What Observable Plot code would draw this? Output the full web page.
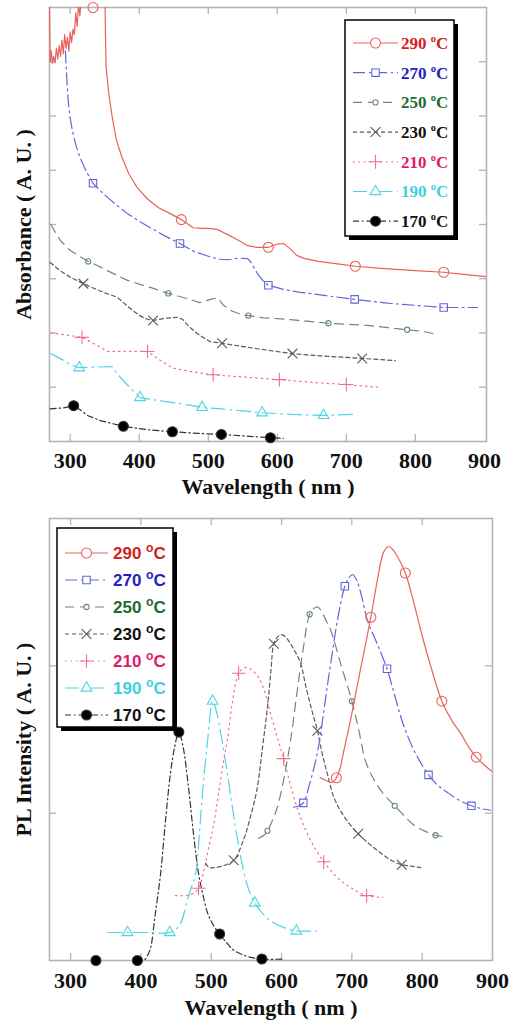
<!DOCTYPE html>
<html><head><meta charset="utf-8">
<script src="https://cdn.jsdelivr.net/npm/d3@7"></script>
<script src="https://cdn.jsdelivr.net/npm/@observablehq/plot@0.6"></script>
<style>
body{margin:0;background:#fff;}
#wrap{position:relative;width:509px;height:1022px;overflow:hidden;background:#fff;}
#wrap > svg{display:block;}
#overlay{position:absolute;left:0;top:0;pointer-events:none;}
</style></head><body><div id="wrap"></div>
<script>
// ---------- categories / ticks ----------
const series = ["290","270","250","230","210","190","170"];
const xTicks = [300,400,500,600,700,800,900];
const absYTicks = [1,2,3,4,5,6,7];
const plYTicks = [1,2];

// ---------- Absorbance (top) : [wavelength nm, absorbance A.U.] ----------
const abs290 = [[270,8.0],[271,7.0],[272.5,7.2],[274,6.97],[276,7.1],[278,6.98],[280,7.25],[282,7.05],[284,7.3],[286,7.1],[288,7.4],[290,7.15],[292,7.5],[294,7.25],[296,7.45],[298,7.2],[300,7.55],[302,7.35],[304,7.6],[306,7.5],[308,7.9],[310,7.65],[312,8.05],[314,7.85],[317,8.3],[320,8.8],[330,9.2],[345,9.2],[350,8.6],[351,7.5],[352,6.9],[356,6.4],[361,5.97],[367,5.55],[375,5.24],[385,4.93],[397,4.68],[412,4.47],[428,4.31],[445,4.2],[461,4.09],[478,3.94],[490,3.93],[500,3.93],[513,3.91],[530,3.8],[545,3.7],[557,3.61],[570,3.58],[587,3.58],[600,3.64],[609,3.65],[618,3.56],[628,3.43],[640,3.37],[660,3.32],[690,3.27],[713,3.23],[750,3.19],[800,3.15],[841,3.12],[870,3.08],[903,3.04]];
const abs290Mk = [[333,8.0],[461,4.09],[587,3.58],[713,3.23],[841,3.12]];
const abs270 = [[293,7.2],[295,6.7],[297,6.29],[300,5.95],[304,5.68],[309,5.43],[314,5.24],[320,5.07],[325,4.94],[333,4.76],[343,4.63],[354,4.5],[368,4.35],[383,4.2],[400,4.06],[416,3.94],[437,3.79],[459,3.65],[480,3.5],[499,3.42],[515,3.36],[528,3.35],[545,3.38],[557,3.37],[562,3.3],[571,3.1],[580,2.95],[587,2.88],[610,2.8],[633,2.75],[670,2.69],[712,2.62],[760,2.55],[800,2.51],[841,2.47],[890,2.47]];
const abs270Mk = [[333,4.76],[459,3.65],[587,2.88],[712,2.62],[841,2.47]];
const abs250 = [[272,4.0],[280,3.82],[286,3.7],[300,3.52],[313,3.42],[326,3.32],[340,3.24],[354,3.15],[368,3.06],[383,2.97],[400,2.9],[416,2.84],[430,2.78],[442,2.73],[465,2.65],[488,2.56],[503,2.62],[513,2.65],[518,2.58],[522,2.51],[535,2.4],[548,2.34],[558,2.32],[580,2.28],[605,2.26],[633,2.23],[674,2.18],[730,2.14],[760,2.1],[788,2.06],[810,2.03],[826,1.99]];
const abs250Mk = [[326,3.32],[442,2.73],[558,2.32],[674,2.18],[788,2.06]];
const abs230 = [[271,3.3],[285,3.15],[300,3.03],[319,2.91],[335,2.82],[350,2.74],[368,2.66],[377,2.56],[390,2.42],[401,2.32],[410,2.26],[420,2.23],[437,2.27],[455,2.29],[463,2.25],[472,2.12],[484,1.99],[495,1.9],[503,1.84],[520,1.81],[545,1.76],[571,1.71],[604,1.65],[622,1.62],[660,1.58],[700,1.55],[723,1.53],[750,1.51],[771,1.49]];
const abs230Mk = [[319,2.91],[420,2.23],[520,1.81],[622,1.62],[723,1.53]];
const abs210 = [[272,2.0],[290,1.97],[317,1.92],[335,1.8],[354,1.66],[380,1.66],[412,1.66],[430,1.5],[449,1.35],[470,1.3],[490,1.26],[507,1.23],[550,1.19],[603,1.14],[650,1.09],[700,1.05],[745,1.0]];
const abs210Mk = [[317,1.92],[412,1.66],[507,1.23],[603,1.14],[700,1.05]];
const abs190 = [[272,1.62],[290,1.5],[300,1.42],[313,1.36],[330,1.37],[361,1.38],[368,1.25],[377,1.12],[390,0.95],[401,0.81],[430,0.75],[459,0.7],[491,0.63],[520,0.6],[546,0.57],[578,0.53],[620,0.5],[667,0.48],[710,0.5]];
const abs190Mk = [[313,1.36],[401,0.81],[491,0.63],[578,0.53],[667,0.48]];
const abs170 = [[271,0.6],[290,0.62],[305,0.66],[315,0.58],[325,0.48],[345,0.38],[377,0.28],[410,0.22],[448,0.18],[485,0.15],[519,0.13],[555,0.1],[590,0.07],[609,0.06]];
const abs170Mk = [[305,0.66],[377,0.28],[448,0.18],[519,0.13],[590,0.07]];

// ---------- PL intensity (bottom) : [wavelength nm, intensity A.U.] ----------
const pl290 = [[655,1.24],[664,1.22],[672,1.21],[678,1.24],[683,1.3],[688,1.41],[698,1.63],[712,1.97],[727,2.33],[737,2.6],[745,2.77],[752,2.81],[758,2.79],[765,2.74],[776,2.63],[787,2.45],[798,2.24],[812,2.0],[828,1.76],[842,1.63],[855,1.54],[866,1.45],[877,1.38],[890,1.32],[900,1.28]];
const pl290Mk = [[678,1.24],[727,2.33],[776,2.63],[828,1.76],[877,1.38]];
const pl270 = [[617,1.04],[625,1.05],[631,1.07],[640,1.2],[651,1.41],[658,1.62],[665,1.86],[671,2.05],[677,2.24],[684,2.42],[690,2.54],[696,2.6],[701,2.62],[707,2.58],[714,2.47],[722,2.31],[735,2.16],[750,1.98],[762,1.78],[774,1.59],[790,1.41],[809,1.26],[822,1.19],[836,1.14],[852,1.09],[870,1.05],[885,1.03],[897,1.02]];
const pl270Mk = [[631,1.07],[690,2.54],[750,1.98],[809,1.26],[870,1.05]];
const pl250 = [[567,0.83],[575,0.85],[580,0.88],[587,0.95],[594,1.04],[604,1.25],[613,1.5],[622,1.82],[630,2.09],[640,2.35],[646,2.39],[651,2.4],[657,2.37],[663,2.31],[670,2.24],[685,2.0],[700,1.76],[710,1.56],[719,1.36],[730,1.24],[745,1.13],[761,1.05],[775,0.98],[788,0.92],[803,0.88],[819,0.85],[836,0.84]];
const pl250Mk = [[580,0.88],[640,2.35],[700,1.76],[761,1.05],[819,0.85]];
const pl230 = [[492,0.66],[497,0.63],[503,0.63],[515,0.64],[532,0.68],[546,0.82],[556,0.98],[565,1.16],[573,1.45],[580,1.72],[585,1.97],[589,2.15],[595,2.2],[601,2.21],[607,2.19],[614,2.14],[620,2.09],[627,2.02],[635,1.85],[643,1.7],[651,1.56],[658,1.4],[665,1.27],[675,1.1],[690,0.97],[709,0.86],[725,0.79],[741,0.73],[756,0.68],[771,0.65],[785,0.64],[798,0.63]];
const pl230Mk = [[532,0.68],[589,2.15],[651,1.56],[709,0.86],[771,0.65]];
const pl210 = [[449,0.44],[460,0.44],[472,0.45],[482,0.49],[490,0.62],[497,0.78],[503,0.91],[510,1.12],[517,1.34],[523,1.5],[530,1.75],[539,1.95],[545,1.98],[551,1.99],[558,1.97],[566,1.93],[575,1.84],[583,1.7],[593,1.53],[603,1.37],[615,1.15],[627,0.97],[643,0.8],[660,0.67],[680,0.56],[700,0.49],[721,0.44],[744,0.43]];
const pl210Mk = [[482,0.49],[539,1.95],[603,1.37],[660,0.67],[721,0.44]];
const pl190 = [[353,0.19],[381,0.19],[410,0.19],[441,0.19],[455,0.24],[466,0.41],[472,0.5],[478,0.59],[483,0.85],[488,1.16],[495,1.5],[502,1.76],[508,1.68],[515,1.5],[523,1.27],[532,0.98],[542,0.7],[552,0.5],[562,0.39],[573,0.32],[584,0.27],[600,0.23],[621,0.2],[635,0.2],[650,0.2]];
const pl190Mk = [[381,0.19],[441,0.19],[502,1.76],[562,0.39],[621,0.2]];
const pl170 = [[336,0],[360,0],[395,0],[404,0],[410,0.04],[414,0.09],[420,0.3],[428,0.59],[435,0.95],[442,1.27],[448,1.45],[454,1.55],[460,1.45],[468,1.16],[475,0.85],[482,0.59],[488,0.45],[495,0.32],[503,0.24],[512,0.18],[522,0.12],[532,0.07],[550,0.03],[572,0.01],[603,0.01]];
const pl170Mk = [[336,0],[395,0],[454,1.55],[512,0.18],[572,0.01]];

// ---------- styles ----------
const sty = {
  "290": {stroke:"#e8625c", dash:null,            symbol:"circle",   r:5,   fill:"none",   text:"#d42020"},
  "270": {stroke:"#6464dc", dash:"12,4,2,4",      symbol:"square",   r:4.2, fill:"none",   text:"#2222c0"},
  "250": {stroke:"#6f8a72", dash:"9,6",           symbol:"circle",   r:2.6, fill:"none",   text:"#1e6b2e"},
  "230": {stroke:"#5a5a5a", dash:"4,3",           symbol:"times",    r:4.5, fill:"none",   text:"#111111"},
  "210": {stroke:"#f07088", dash:"1.5,4",         symbol:"plus",     r:4.5, fill:"none",   text:"#e01a6e"},
  "190": {stroke:"#50d4e4", dash:"14,5,1.5,5",    symbol:"triangle", r:4,   fill:"none",   text:"#3fd0e0"},
  "170": {stroke:"#333333", dash:"6,3,1.5,3",     symbol:"circle",   r:5,   fill:"#000",   text:"#111111"}
};
const absLines = {"290":abs290,"270":abs270,"250":abs250,"230":abs230,"210":abs210,"190":abs190,"170":abs170};
const absMarks = {"290":abs290Mk,"270":abs270Mk,"250":abs250Mk,"230":abs230Mk,"210":abs210Mk,"190":abs190Mk,"170":abs170Mk};
const plLines = {"290":pl290,"270":pl270,"250":pl250,"230":pl230,"210":pl210,"190":pl190,"170":pl170};
const plMarks = {"290":pl290Mk,"270":pl270Mk,"250":pl250Mk,"230":pl230Mk,"210":pl210Mk,"190":pl190Mk,"170":pl170Mk};

const SERIF = "'Liberation Serif','Times New Roman',serif";
const SANS = "'Liberation Sans',Arial,sans-serif";
const FS = 22;

function panel(o) {
  const W = 509;
  const pw = W - o.ml - o.mr, ph = o.height - o.mt - o.mb;
  const TL = 7, frameCol = "#b4b4b4";
  const marks = [
    Plot.frame({stroke: frameCol, strokeWidth: 1.6}),
    Plot.tickX(o.xt, {x: d => d, insetTop: ph - TL, stroke: frameCol, strokeWidth: 1.3}),
    Plot.tickX(o.xt, {x: d => d, insetBottom: ph - TL, stroke: frameCol, strokeWidth: 1.3}),
    Plot.tickY(o.yt, {y: d => d, insetRight: pw - TL, stroke: frameCol, strokeWidth: 1.3}),
    Plot.tickY(o.yt, {y: d => d, insetLeft: pw - TL, stroke: frameCol, strokeWidth: 1.3}),
    Plot.text(xTicks, {x: d => d, text: d => String(d), frameAnchor: "bottom", lineAnchor: "top", textAnchor: "middle",
      dy: o.tp, fontSize: FS, fontWeight: "bold", fill: "#111"}),
    Plot.text([o.ylabel], {text: d => d, frameAnchor: "left", textAnchor: "middle", lineAnchor: "middle",
      rotate: -90, dx: -26, fontSize: FS, fontWeight: "bold", fill: "#111"}),
    Plot.text(["Wavelength ( nm )"], {text: d => d, frameAnchor: "bottom", textAnchor: "middle", lineAnchor: "middle",
      dy: o.xlabDy, fontSize: FS, fontWeight: "bold", fill: "#111"})
  ];
  for (const s of [...series].reverse()) {
    const st = sty[s];
    marks.push(Plot.line(o.lines[s], {x: d => d[0], y: d => d[1], stroke: st.stroke, strokeWidth: 1.2,
      strokeDasharray: st.dash || undefined, curve: o.curve, clip: true}));
    marks.push(Plot.dot(o.marks[s], {x: d => d[0], y: d => d[1], symbol: st.symbol, r: st.r,
      stroke: st.stroke, fill: st.fill, strokeWidth: 1.1}));
  }
  return Plot.plot({
    width: W, height: o.height,
    marginTop: o.mt, marginBottom: o.mb, marginLeft: o.ml, marginRight: o.mr,
    style: {fontFamily: SERIF, fontSize: FS + "px", fontWeight: "bold", background: "transparent", overflow: "visible"},
    x: {domain: o.xd, axis: null},
    y: {domain: o.yd, axis: null},
    marks
  });
}

const wrap = document.getElementById("wrap");
const topPanel = panel({height: 505, mt: 7, mb: 64, ml: 49, mr: 23, xd: [270, 903], yd: [0, 8],
  xt: [300,400,500,600,700,800], yt: absYTicks, lines: absLines, marks: absMarks,
  ylabel: "Absorbance ( A. U. )", xlabDy: 45, tp: 11, curve: "linear"});
const botPanel = panel({height: 517, mt: 13, mb: 62, ml: 49, mr: 17, xd: [270, 900], yd: [0, 3],
  xt: [300,400,500,600,700,800], yt: plYTicks, lines: plLines, marks: plMarks,
  ylabel: "PL Intensity ( A. U. )", xlabDy: 47, tp: 12, curve: "catmull-rom"});
topPanel.style.overflow = "hidden";
wrap.appendChild(topPanel);
wrap.appendChild(botPanel);

// ---------- legends (overlay) ----------
const ov = d3.select(wrap).append("svg").attr("id", "overlay").attr("width", 509).attr("height", 1022);
const symMap = {circle: d3.symbolCircle, square: d3.symbolSquare, times: d3.symbolTimes || d3.symbolX,
  plus: d3.symbolPlus, triangle: d3.symbolTriangle};

function legend(L) {
  const g = ov.append("g");
  g.append("rect").attr("x", L.x + L.sh).attr("y", L.y + L.sh).attr("width", L.w).attr("height", L.h).attr("fill", "#000");
  g.append("rect").attr("x", L.x).attr("y", L.y).attr("width", L.w).attr("height", L.h)
    .attr("fill", "#fff").attr("stroke", "#000").attr("stroke-width", 1.5);
  series.forEach((s, i) => {
    const st = sty[s];
    const cy = L.y0 + i * L.dy;
    g.append("line").attr("x1", L.sx0).attr("x2", L.sx1).attr("y1", cy).attr("y2", cy)
      .attr("stroke", st.stroke).attr("stroke-width", 1.2).attr("stroke-dasharray", st.dash);
    const r = st.r;
    g.append("path").attr("transform", `translate(${(L.sx0 + L.sx1) / 2},${cy})`)
      .attr("d", d3.symbol(symMap[st.symbol], Math.PI * r * r)())
      .attr("fill", st.fill === "none" ? "#fff" : st.fill).attr("stroke", st.stroke).attr("stroke-width", 1.1);
    const t = g.append("text").attr("x", L.tx).attr("y", cy + L.fs * 0.35)
      .attr("font-family", L.font).attr("font-weight", "bold").attr("font-size", L.fs).attr("fill", st.text);
    t.append("tspan").text(s + " ");
    t.append("tspan").attr("dy", -L.fs * 0.42).attr("font-size", L.fs * L.sup).text("o");
    t.append("tspan").attr("dy", L.fs * 0.42).text("C");
  });
}
legend({x: 345, y: 20, w: 109, h: 216, sh: 4, y0: 43, dy: 29.7, sx0: 353, sx1: 398, tx: 401, fs: 17, sup: 0.62, font: SERIF});
legend({x: 57, y: 528, w: 116, h: 199, sh: 4, y0: 553, dy: 27, sx0: 65, sx1: 108, tx: 113, fs: 17, sup: 0.72, font: SANS});
</script>
</body></html>
